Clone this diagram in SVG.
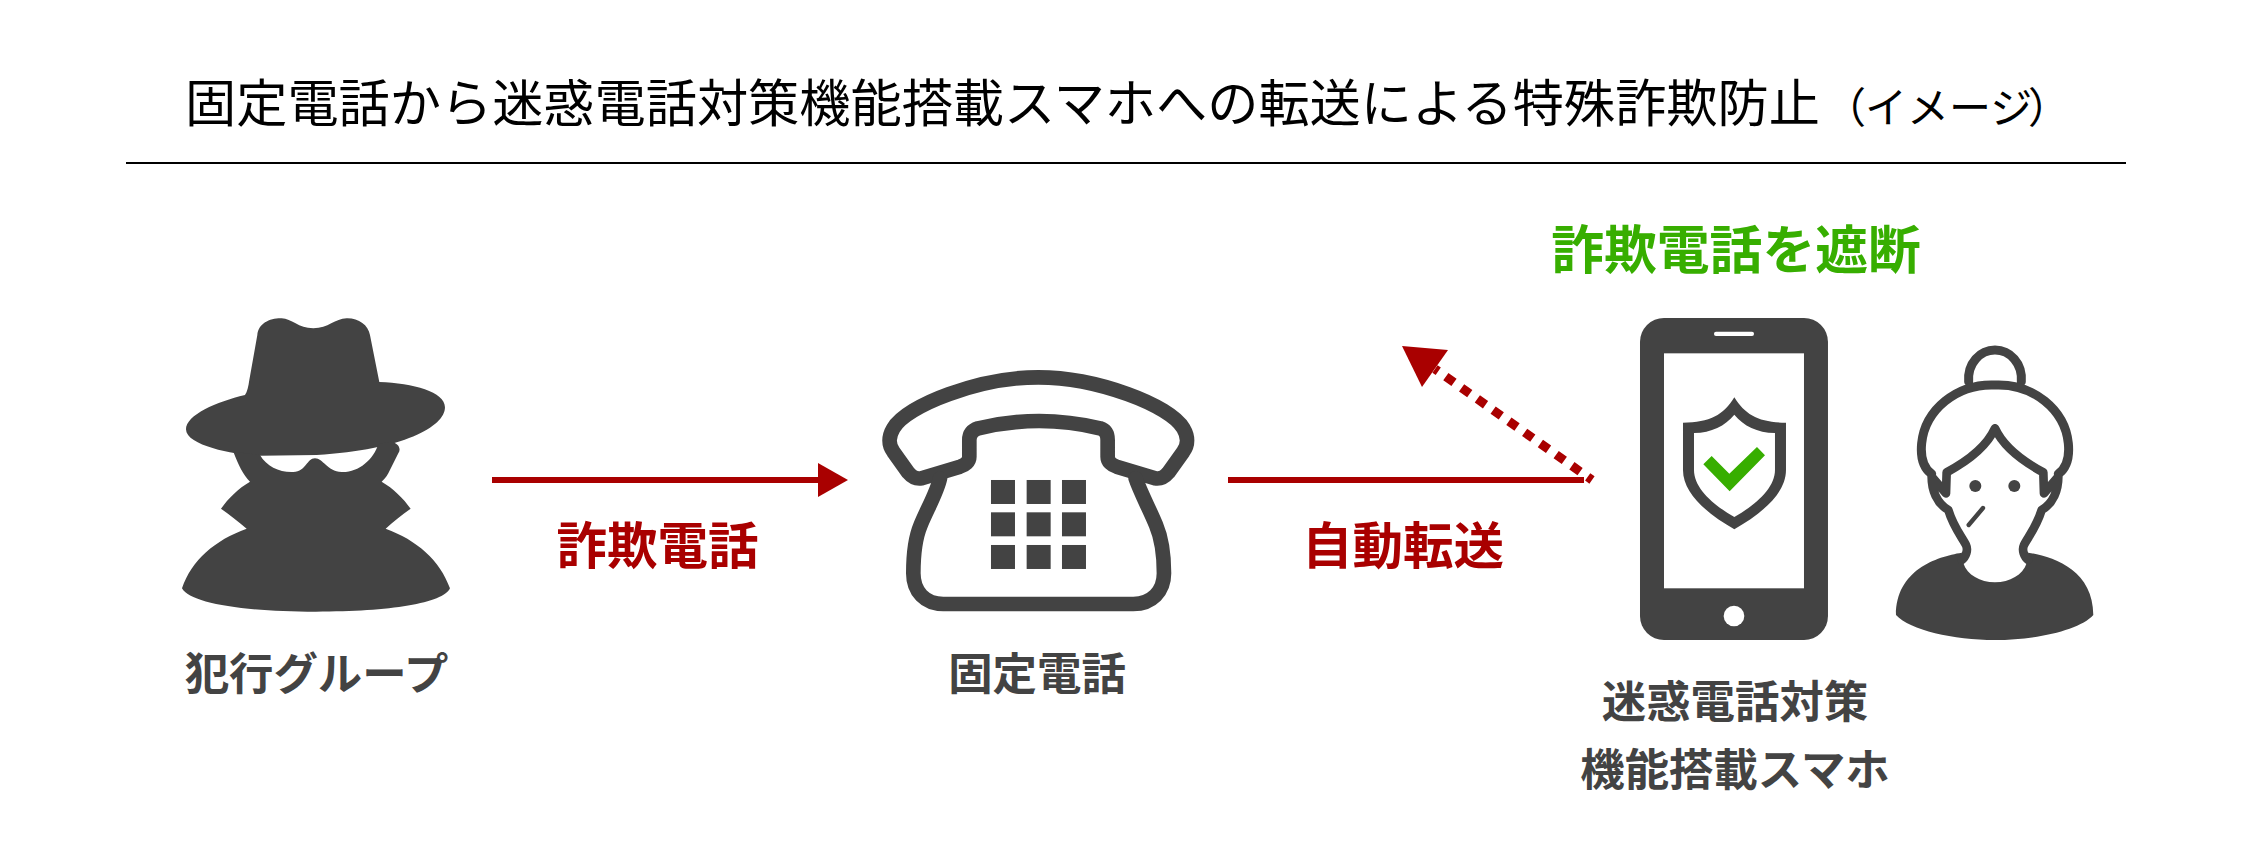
<svg xmlns="http://www.w3.org/2000/svg" width="2252" height="852" viewBox="0 0 2252 852">
<style>
text{font-family:"Noto Sans CJK JP","Noto Sans",sans-serif;text-anchor:middle}
.d{fill:#434343}
.l{fill:#434343;font-size:44.4px;font-weight:700}
.r{fill:#a90000;font-size:50.5px;font-weight:700}
.o{fill:none;stroke:#434343;stroke-linejoin:round;stroke-linecap:round}
</style>
<rect width="2252" height="852" fill="#fff"/>
<g id="title"><text x="185" y="122" style="font-size:51.2px;fill:#000;text-anchor:start">固定電話から迷惑電話対策機能搭載スマホへの転送による特殊詐欺防止<tspan x="1824" dy="1" style="font-size:42px">（</tspan><tspan x="1865" style="font-size:42px">イメージ</tspan><tspan x="2028" style="font-size:42px">）</tspan></text><rect x="126" y="162" width="2000" height="2" fill="#000"/></g>
<g id="connectors">
<rect x="492" y="477" width="326" height="6" fill="#a90000"/><path d="M818 463L848 480L818 497Z" fill="#a90000"/>
<rect x="1228" y="477" width="356" height="6" fill="#a90000"/>
<path d="M1592 480L1435 369" fill="none" stroke="#a90000" stroke-width="9" stroke-dasharray="10 9.3" stroke-dashoffset="4.7"/><path d="M1402 346L1448 350L1422 387Z" fill="#a90000"/>
</g>
<g id="spy"><g transform="translate(150,290) scale(.3333)">
<path class="d" d="M322 135C325 100 360 84 395 85C425 86 445 115 490 115C535 115 555 86 590 85C625 84 655 105 660 135L688 276C790 280 885 305 885 352C885 410 760 480 500 495L330 497C270 497 108 470 108 418C108 375 200 335 285 315C292 305 295 290 298 270Z"/>
<path class="d" d="M250 485L330 495C350 530 390 548 430 546C470 544 470 505 495 505C520 505 530 544 575 546C625 548 670 510 685 462L720 455C745 458 755 475 745 490L715 550C708 563 700 570 695 575C730 595 760 625 782 656C755 675 730 695 707 716C800 750 870 810 900 895C880 940 720 965 498 965C280 965 120 940 96 895C125 810 195 750 290 716C265 695 240 675 213 656C235 625 265 595 300 575C280 555 265 525 250 485Z"/>
</g></g>
<g id="phone"><g transform="translate(850,350) scale(.3333)">
<path class="o" stroke-width="44" d="M358 320L358 270C358 250 370 240 385 235C510 205 625 205 750 235C765 240 773 250 773 270L773 320C773 335 785 345 800 350L915 385C935 388 945 380 955 368L1000 305C1015 285 1015 260 1000 235C960 165 740 82 565 82C390 82 170 165 130 235C115 260 115 285 130 305L175 368C185 380 195 388 215 385L330 350C345 345 358 335 358 320Z"/>
<path class="o" stroke-width="44" d="M270 385C262 425 230 480 212 525C195 565 190 620 190 670C190 725 225 762 280 762L850 762C905 762 942 725 942 670C942 620 935 565 918 525C900 480 870 425 857 385"/>
<g class="d"><rect x="423" y="390" width="72" height="72"/><rect x="530" y="390" width="72" height="72"/><rect x="636" y="390" width="72" height="72"/><rect x="423" y="487" width="72" height="72"/><rect x="530" y="487" width="72" height="72"/><rect x="636" y="487" width="72" height="72"/><rect x="423" y="585" width="72" height="72"/><rect x="530" y="585" width="72" height="72"/><rect x="636" y="585" width="72" height="72"/></g>
</g></g>
<g id="smartphone"><g transform="translate(1610,300) scale(.3333)">
<rect class="d" x="90" y="54" width="564" height="966" rx="72"/>
<rect x="162" y="160" width="420" height="705" fill="#fff"/>
<rect x="312" y="95" width="120" height="13" rx="6" fill="#fff"/>
<circle cx="372" cy="948" r="31" fill="#fff"/>
<path class="d" fill-rule="evenodd" d="M373 292C340 345 300 368 219 368L219 510C219 580 290 640 373 688C456 640 528 580 528 510L528 368C447 368 406 345 373 292ZM373 344C345 378 305 398 252 399L252 510C252 565 310 615 373 651C436 615 495 565 495 510L495 399C441 398 401 378 373 344Z"/>
<path fill="#37ae00" d="M280 493L305 468L358 521L441 441L465 466L359 574Z"/>
</g></g>
<g id="person"><g transform="translate(1880,330) scale(.3333)">
<path class="d" d="M245 668C255 700 250 690 250 700C262 735 300 757 345 757C390 757 428 735 440 700C440 690 435 700 445 668C520 680 640 720 640 855C600 900 470 930 345 930C220 930 90 900 48 855C48 720 170 680 245 668Z"/>
<path class="o" stroke-width="27" d="M266 155C262 100 300 60 345 60C390 60 428 100 424 155"/>
<path class="o" stroke-width="27" d="M155 432C125 410 122 370 125 340C135 240 230 160 345 165C460 160 555 240 565 340C568 370 565 410 535 432"/>
<path class="o" stroke-width="26" d="M345 295C320 350 260 395 200 427L198 490L155 440C155 480 170 520 205 540C220 590 245 620 258 645C265 660 258 680 245 690M345 295C370 350 430 395 490 427L492 490L535 440C535 480 520 520 485 540C470 590 445 620 432 645C425 660 432 680 445 690"/>
<circle class="d" cx="286" cy="468" r="18"/><circle class="d" cx="403" cy="468" r="18"/>
<path class="o" stroke-width="13" d="M309 534L266 585"/>
</g></g>
<g id="labels">
<text class="l" x="316.500" y="690">犯行グループ</text>
<text class="l" x="1037" y="690">固定電話</text>
<text class="l" x="1735" y="718">迷惑電話対策</text>
<text class="l" x="1735" y="786">機能搭載スマホ</text>
<text class="r" x="657.5" y="564">詐欺電話</text>
<text class="r" x="1403" y="564">自動転送</text>
<text x="1736" y="269" style="font-size:52.8px;font-weight:700;fill:#37ae00">詐欺電話を遮断</text>
</g>
</svg>
